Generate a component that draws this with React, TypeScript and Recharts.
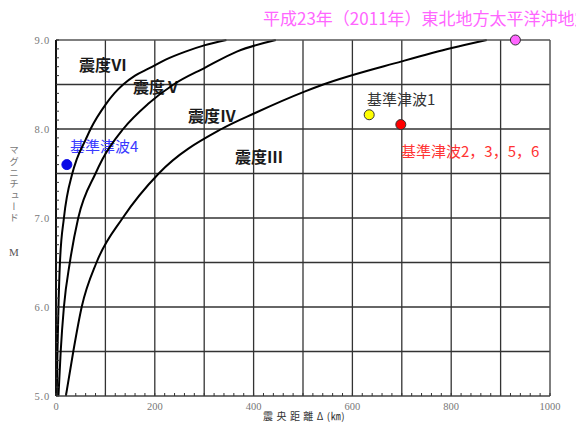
import React from 'react';
import { ComposedChart, Line, Scatter, XAxis, YAxis, CartesianGrid, Customized } from 'recharts';

// Boundary curves (epicentral distance km, magnitude M)
const curveVIx = [1.5, 3, 5, 8, 16, 33, 42, 60, 70, 101, 118, 136, 160, 188, 222, 262, 300, 345];
const curveVIy = [5.0, 5.5, 6.0, 6.5, 7.0, 7.5, 7.66, 7.88, 8.0, 8.28, 8.4, 8.5, 8.6, 8.68, 8.78, 8.87, 8.94, 9.0];
const curveVx = [5, 9.5, 16, 28, 45, 80, 94, 136, 186, 238, 302, 366, 445];
const curveVy = [5.0, 5.5, 6.0, 6.5, 7.0, 7.5, 7.66, 8.0, 8.28, 8.5, 8.69, 8.87, 9.0];
const curveIVx = [20, 35, 52, 82, 135, 208, 335, 403, 503, 541, 700, 801, 872];
const curveIVy = [5.0, 5.5, 6.0, 6.5, 7.0, 7.5, 8.0, 8.18, 8.42, 8.5, 8.76, 8.91, 9.0];

// Tsunami source points
const pointNames = ['基準津波4', '基準津波1', '基準津波2，3，5，6', '平成23年（2011年）東北地方太平洋沖地震'];
const pointX = [22, 634, 698, 930];
const pointM = [7.6, 8.16, 8.05, 9.0];

// Axis ticks
const xMajorLabels = [0, 200, 400, 600, 800, 1000];
const yMajorLabels = [5, 6, 7, 8, 9];
const xGrid = [100, 200, 300, 400, 500, 600, 700, 800, 900];
const yGrid = [5.5, 6.0, 6.5, 7.0, 7.5, 8.0, 8.5];
const xMinor: number[] = [];
for (let i = 0; i <= 50; i++) xMinor.push(i * 20);
const yMinor: number[] = [];
for (let i = 0; i <= 40; i++) yMinor.push(Number((5 + i * 0.1).toFixed(1)));

const zoneLabels = ['震度Ⅵ', '震度Ⅴ', '震度Ⅳ', '震度Ⅲ'];
const xTitle = '震 央 距 離 Δ (㎞)';
const yTitle = 'マグニチュード';

const toPts = (xs: number[], ys: number[]) => xs.map((x, i) => ({ x, y: ys[i] }));

const pointColors = [
  { fill: '#0a0ae6', stroke: '#0a0ae6', text: '#3a3aff' },
  { fill: '#ffff00', stroke: '#333', text: '#333' },
  { fill: '#ff0000', stroke: '#333', text: '#ff3333' },
  { fill: '#ff66ff', stroke: '#333', text: '#ff66ff' },
];

const tickFont = 'Liberation Serif';
const jp = '"Noto Sans CJK JP", "Noto Sans", sans-serif';

const BottomTick = (p: any) => {
  const v = p.payload.value;
  return (
    <g>
      <line x1={p.x} y1={p.y} x2={p.x} y2={p.y - 3} stroke="#333" strokeWidth={1} />
      {xMajorLabels.includes(v) && (
        <text x={p.x} y={p.y + 14} textAnchor="middle" fontSize={10.5} fill="#777" fontFamily={tickFont}>
          {v}
        </text>
      )}
    </g>
  );
};
const TopTick = (p: any) => (
  <line x1={p.x} y1={p.y} x2={p.x} y2={p.y + 3} stroke="#333" strokeWidth={1} />
);
const LeftTick = (p: any) => {
  const v = p.payload.value;
  return (
    <g>
      <line x1={p.x} y1={p.y} x2={p.x + 3} y2={p.y} stroke="#333" strokeWidth={1} />
      {yMajorLabels.includes(v) && (
        <text x={p.x - 6} y={p.y + 3.5} textAnchor="end" fontSize={10.5} fill="#777" fontFamily={tickFont} letterSpacing={0.8}>
          {v.toFixed(1)}
        </text>
      )}
    </g>
  );
};
const RightTick = (p: any) => (
  <line x1={p.x} y1={p.y} x2={p.x - 3} y2={p.y} stroke="#333" strokeWidth={1} />
);

const Annotations = () => (
  <g>
    <text x={79} y={71} fontSize={16} fontWeight="bold" fill="#1a1a1a" fontFamily={jp}>{zoneLabels[0]}</text>
    <text x={133} y={93} fontSize={16} fontWeight="bold" fill="#1a1a1a" fontFamily={jp}>{zoneLabels[1]}</text>
    <text x={188} y={122} fontSize={16} fontWeight="bold" fill="#1a1a1a" fontFamily={jp}>{zoneLabels[2]}</text>
    <text x={235} y={163} fontSize={16} fontWeight="bold" fill="#1a1a1a" fontFamily={jp}>{zoneLabels[3]}</text>
    <text x={70} y={152} fontSize={15} fill={pointColors[0].text} fontFamily={jp}>{pointNames[0]}</text>
    <text x={367} y={105} fontSize={15} fill={pointColors[1].text} fontFamily={jp}>{pointNames[1]}</text>
    <text x={401} y={157} fontSize={15} fill={pointColors[2].text} fontFamily={jp}>{pointNames[2]}</text>
    <text x={263} y={25} fontSize={17} fill={pointColors[3].text} fontFamily={jp}>{pointNames[3]}</text>
    <text x={263} y={420} fontSize={10} fill="#333" fontFamily={jp} letterSpacing={0.6}>{xTitle}</text>
    <text x={14} y={145} fontSize={9.5} fill="#777" fontFamily={jp} letterSpacing={1.8} style={{ writingMode: 'vertical-rl' as any }}>{yTitle}</text>
    <text x={14} y={256} fontSize={11} fill="#555" fontFamily={tickFont} textAnchor="middle">M</text>
  </g>
);

export default function App() {
  return (
    <div style={{ position: 'absolute', left: 0, top: 0, width: 576, height: 426, background: '#fff' }}>
      <ComposedChart width={576} height={426} margin={{ top: 0, right: 0, bottom: 0, left: 0 }}>
        <CartesianGrid verticalValues={xGrid} horizontalValues={yGrid} stroke="#333" strokeWidth={1.3} />
        <XAxis xAxisId={0} dataKey="x" type="number" domain={[0, 1000]} ticks={xMinor} interval={0}
          height={30} tickSize={0} tickMargin={0} tick={BottomTick} axisLine={{ stroke: '#444', strokeWidth: 1.5 }} tickLine={false} />
        <XAxis xAxisId="top" orientation="top" dataKey="x" type="number" domain={[0, 1000]} ticks={xMinor} interval={0}
          height={40} tickSize={0} tickMargin={0} tick={TopTick} axisLine={{ stroke: '#555', strokeWidth: 1.5 }} tickLine={false} />
        <YAxis yAxisId={0} dataKey="y" type="number" domain={[5, 9]} ticks={yMinor} interval={0}
          width={56} tickSize={0} tickMargin={0} tick={LeftTick} axisLine={{ stroke: '#111', strokeWidth: 2 }} tickLine={false} />
        <YAxis yAxisId="right" orientation="right" dataKey="y" type="number" domain={[5, 9]} ticks={yMinor} interval={0}
          width={26} tickSize={0} tickMargin={0} tick={RightTick} axisLine={{ stroke: '#555', strokeWidth: 1.5 }} tickLine={false} />
        <Line data={toPts(curveVIx, curveVIy)} dataKey="y" type="monotone" stroke="#000" strokeWidth={2} dot={false} isAnimationActive={false} />
        <Line data={toPts(curveVx, curveVy)} dataKey="y" type="monotone" stroke="#000" strokeWidth={2} dot={false} isAnimationActive={false} />
        <Line data={toPts(curveIVx, curveIVy)} dataKey="y" type="monotone" stroke="#000" strokeWidth={2} dot={false} isAnimationActive={false} />
        {pointX.map((px, i) => (
          <Scatter key={i} data={[{ x: px, y: pointM[i] }]} dataKey="y" isAnimationActive={false}
            shape={(p: any) => (
              <circle cx={p.cx} cy={p.cy} r={5} fill={pointColors[i].fill} stroke={pointColors[i].stroke} strokeWidth={1} />
            )} />
        ))}
        <Customized component={Annotations} />
      </ComposedChart>
    </div>
  );
}
